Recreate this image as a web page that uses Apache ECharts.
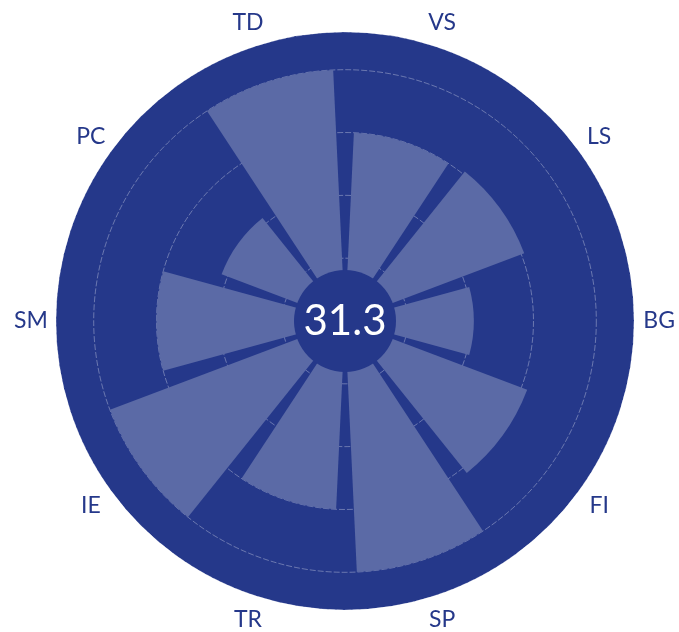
<!DOCTYPE html>
<html>
<head>
<meta charset="utf-8">
<title>Polar profile</title>
<script src="https://cdn.jsdelivr.net/npm/echarts@6/dist/echarts.min.js"></script>
<style>
  html, body { margin: 0; padding: 0; background: #ffffff; }
  #chart { width: 679px; height: 632px; }
</style>
</head>
<body>
<div id="chart"></div>
<script>
// Categories, clockwise from the top
const categories = ['VS', 'LS', 'BG', 'FI', 'SP', 'TR', 'IE', 'SM', 'PC', 'TD'];
// Score per category
const values = [30, 30.5, 20.5, 31, 40, 30, 40, 30, 21, 40];
// Radial scale
const radiusMin = 0;
const radiusMax = 46;
const radiusStep = 10;
// Radius (in scale units) where the category names sit, outside the disc
const nameRadius = 50;

const DARK = '#25388a';
const LIGHT = '#5b6aa6';
const CX = 345, CY = 321, R = 289;

// Small pixel nudges for the category names around the rim
const nameOffset = {
  VS: [2, 3], LS: [11, 7], BG: [4, -1], FI: [13, -19], SP: [18, -1],
  TR: [10, -1], IE: [-13, -19], SM: [-5, -1], PC: [-4, 12], TD: [2, 3]
};

const mean = values.reduce((a, b) => a + b, 0) / values.length;

// One tiny label-only series per category name
const nameSeries = categories.map(name => ({
  type: 'scatter',
  coordinateSystem: 'polar',
  clip: false,
  silent: true,
  symbolSize: 2,
  itemStyle: { color: 'rgba(255,255,255,0)' },
  data: [[nameRadius, name]],
  label: {
    show: true,
    position: 'inside',
    align: 'center',
    verticalAlign: 'middle',
    offset: nameOffset[name],
    formatter: () => name,
    color: DARK,
    opacity: 1,
    textBorderWidth: 0,
    fontFamily: 'Lato',
    fontSize: 23
  },
  labelLayout: { hideOverlap: false },
  z: 3
}));

const chart = echarts.init(document.getElementById('chart'));
chart.setOption({
  animation: false,
  backgroundColor: '#ffffff',
  polar: { center: [CX, CY], radius: R },
  angleAxis: {
    type: 'category',
    data: categories,
    startAngle: 90,
    clockwise: true,
    z: 0,
    axisLine: { show: false },
    axisTick: { show: false },
    splitLine: { show: false },
    axisLabel: { show: false },
    splitArea: { show: true, areaStyle: { color: [DARK] } }
  },
  radiusAxis: {
    type: 'value',
    min: radiusMin,
    max: radiusMax,
    interval: radiusStep,
    z: 1,
    axisLine: { show: false },
    axisTick: { show: false },
    axisLabel: { show: false },
    splitLine: {
      show: true,
      lineStyle: { color: 'rgba(255,255,255,0.32)', width: 1, type: [6, 2] }
    }
  },
  series: [
    {
      type: 'bar',
      coordinateSystem: 'polar',
      data: values,
      barCategoryGap: '15%',
      itemStyle: { color: LIGHT },
      silent: true,
      z: 2
    },
    ...nameSeries,
    {
      type: 'pie',
      center: [CX, CY],
      radius: [0, 51],
      silent: true,
      z: 5,
      data: [{ value: 1, name: 'mean' }],
      itemStyle: { color: DARK },
      label: {
        show: true,
        position: 'center',
        formatter: () => mean.toFixed(1),
        color: '#ffffff',
        fontFamily: 'Lato',
        fontSize: 42
      },
      labelLine: { show: false },
      emphasis: { disabled: true }
    }
  ]
});
</script>
</body>
</html>
